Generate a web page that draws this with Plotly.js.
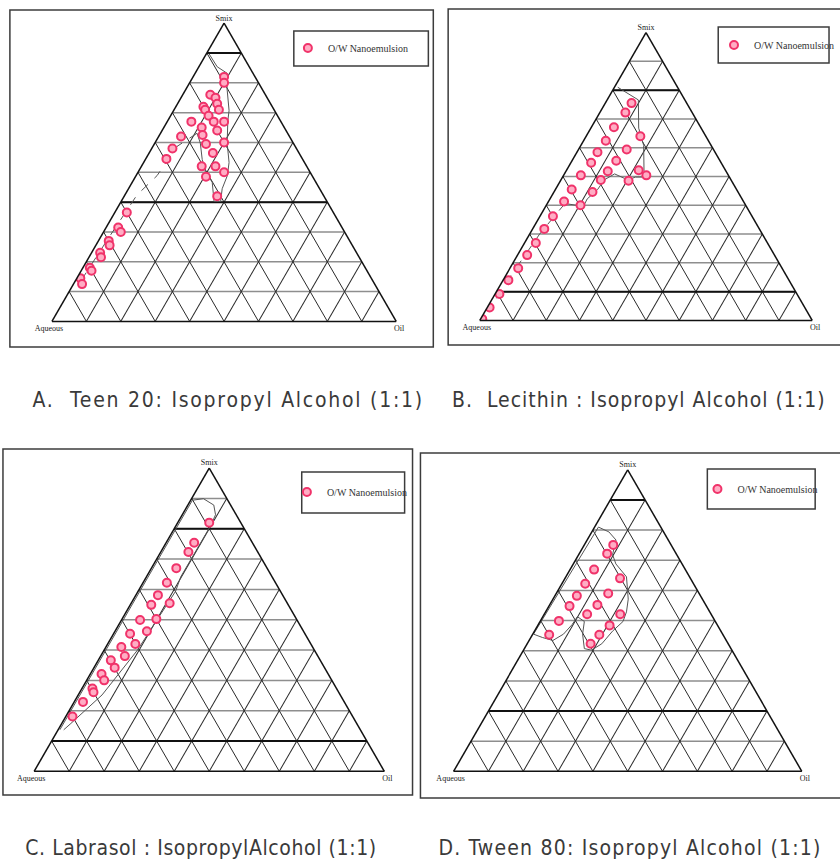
<!DOCTYPE html>
<html>
<head>
<meta charset="utf-8">
<script src="https://cdn.plot.ly/plotly-3.0.1.min.js"></script>
<style>
  body { margin: 0; background: #fff; }
  #chart { width: 840px; height: 865px; }
  /* the printed captions are loosely spaced */
  #chart g.annotation text { letter-spacing: 1.75px; }
  #chart g.annotation[data-index="1"] text { letter-spacing: 1px; }
  #chart g.annotation[data-index="2"] text { letter-spacing: 0.6px; }
  #chart g.annotation[data-index="3"] text { letter-spacing: 1.2px; }
</style>
</head>
<body>
<div id="chart"></div>
<script>
// Pseudo-ternary phase diagrams (Smix / Aqueous / Oil), four Smix systems at 1:1

const W = 840, H = 865;
const seriesName = 'O/W Nanoemulsion';
const captions = [
  'A.&nbsp; Teen 20: Isopropyl Alcohol (1:1)',
  'B.&nbsp; Lecithin : Isopropyl Alcohol (1:1)',
  'C. Labrasol : IsopropylAlcohol (1:1)',
  'D. Tween 80: Isopropyl Alcohol (1:1)'
];

// --- A: Tween 20 : IPA ---
const smixA = [0.82, 0.80, 0.76, 0.75, 0.72, 0.73, 0.71, 0.71, 0.69, 0.67, 0.67, 0.67, 0.65, 0.64, 0.625, 0.62, 0.595, 0.60, 0.58, 0.565, 0.545, 0.52, 0.52, 0.50, 0.485, 0.42,
               0.365, 0.315, 0.30, 0.27, 0.255, 0.23, 0.215, 0.18, 0.17, 0.145, 0.125];
const aqA   = [0.09, 0.10, 0.16, 0.15, 0.20, 0.155, 0.20, 0.16, 0.20, 0.195, 0.165, 0.26, 0.24, 0.20, 0.25, 0.315, 0.255, 0.20, 0.36, 0.25, 0.395, 0.305, 0.265, 0.25, 0.31, 0.31,
               0.60, 0.65, 0.65, 0.70, 0.705, 0.745, 0.75, 0.80, 0.80, 0.845, 0.85];
const oilA  = [0.09, 0.10, 0.08, 0.10, 0.08, 0.115, 0.09, 0.13, 0.11, 0.135, 0.165, 0.07, 0.11, 0.16, 0.125, 0.065, 0.15, 0.20, 0.06, 0.185, 0.06, 0.175, 0.215, 0.25, 0.205, 0.27,
               0.035, 0.035, 0.05, 0.03, 0.04, 0.025, 0.035, 0.02, 0.03, 0.01, 0.025];
const edgeA_smix = [0.898, 0.854, 0.832, 0.783, 0.707, 0.674, 0.598, 0.533, 0.489, 0.445, 0.402, 0.402, 0.467, 0.500, 0.543, 0.598, 0.631];
const edgeA_aq   = [0.095, 0.093, 0.075, 0.100, 0.132, 0.152, 0.192, 0.219, 0.246, 0.283, 0.309, 0.328, 0.301, 0.304, 0.292, 0.270, 0.263];
const edgeA_oil  = [0.007, 0.053, 0.093, 0.117, 0.161, 0.174, 0.210, 0.248, 0.265, 0.272, 0.289, 0.270, 0.232, 0.196, 0.165, 0.132, 0.106];
const dashA_smix = [0.631, 0.587, 0.489, 0.424, 0.271, 0.151, 0.119];
const dashA_aq   = [0.263, 0.343, 0.450, 0.541, 0.705, 0.832, 0.868];
const dashA_oil  = [0.106, 0.070, 0.061, 0.035, 0.024, 0.017, 0.013];
const boldA = [0.9, 0.4];

// --- B: Lecithin : IPA ---
const smixB = [0.755, 0.722, 0.671, 0.640, 0.624, 0.594, 0.584, 0.555, 0.548, 0.518, 0.522, 0.504, 0.485, 0.504, 0.488, 0.455, 0.446, 0.413, 0.400, 0.362, 0.318, 0.269, 0.227, 0.181, 0.140, 0.092, 0.045, 0.005];
const aqB   = [0.166, 0.201, 0.261, 0.197, 0.309, 0.261, 0.354, 0.312, 0.391, 0.356, 0.261, 0.247, 0.310, 0.444, 0.392, 0.496, 0.438, 0.540, 0.497, 0.599, 0.647, 0.697, 0.744, 0.794, 0.844, 0.895, 0.948, 0.990];
const oilB  = [0.079, 0.077, 0.068, 0.163, 0.067, 0.145, 0.062, 0.133, 0.061, 0.126, 0.217, 0.249, 0.205, 0.052, 0.120, 0.049, 0.116, 0.047, 0.103, 0.039, 0.035, 0.034, 0.029, 0.025, 0.016, 0.013, 0.007, 0.005];
const edgeB_smix = [0.810, 0.766, 0.668, 0.608, 0.520, 0.498, 0.498, 0.488, 0.509, 0.488, 0.455, 0.422, 0.389, 0.400, 0.406];
const edgeB_aq   = [0.180, 0.140, 0.188, 0.203, 0.246, 0.242, 0.283, 0.310, 0.340, 0.382, 0.418, 0.466, 0.497, 0.508, 0.541];
const edgeB_oil  = [0.010, 0.094, 0.144, 0.189, 0.234, 0.260, 0.219, 0.202, 0.151, 0.130, 0.127, 0.112, 0.114, 0.092, 0.053];
const dashB_smix = [0.406, 0.300, 0.150, 0.033];
const dashB_aq   = [0.541, 0.670, 0.835, 0.957];
const dashB_oil  = [0.053, 0.030, 0.015, 0.010];
const boldB = [0.8, 0.1];

// --- C: Labrasol : IPA ---
const smixC = [0.820, 0.754, 0.723, 0.670, 0.622, 0.581, 0.554, 0.549, 0.502, 0.499, 0.462, 0.454, 0.420, 0.410, 0.380, 0.366, 0.342, 0.321, 0.300, 0.273, 0.261, 0.229, 0.181];
const aqC   = [0.090, 0.166, 0.198, 0.259, 0.310, 0.356, 0.336, 0.391, 0.400, 0.448, 0.447, 0.499, 0.501, 0.546, 0.551, 0.598, 0.599, 0.647, 0.650, 0.697, 0.700, 0.746, 0.800];
const oilC  = [0.090, 0.080, 0.079, 0.071, 0.068, 0.063, 0.110, 0.060, 0.098, 0.053, 0.091, 0.047, 0.079, 0.044, 0.069, 0.036, 0.059, 0.032, 0.050, 0.030, 0.039, 0.025, 0.019];
const edgeC_smix = [0.137, 0.894, 0.899, 0.878, 0.846, 0.809, 0.641, 0.594, 0.399, 0.252, 0.158, 0.137];
const edgeC_aq   = [0.858, 0.101, 0.067, 0.048, 0.059, 0.092, 0.261, 0.299, 0.506, 0.680, 0.816, 0.847];
const edgeC_oil  = [0.005, 0.005, 0.034, 0.074, 0.095, 0.099, 0.098, 0.107, 0.095, 0.068, 0.026, 0.016];
const boldC = [0.8, 0.1];

// --- D: Tween 80 : IPA ---
const smixD = [0.751, 0.722, 0.669, 0.640, 0.622, 0.590, 0.582, 0.552, 0.548, 0.521, 0.521, 0.499, 0.484, 0.453, 0.453, 0.423];
const aqD   = [0.166, 0.198, 0.262, 0.202, 0.311, 0.261, 0.355, 0.311, 0.393, 0.356, 0.261, 0.448, 0.310, 0.499, 0.355, 0.395];
const oilD  = [0.083, 0.080, 0.069, 0.158, 0.067, 0.149, 0.063, 0.137, 0.059, 0.123, 0.218, 0.053, 0.206, 0.048, 0.192, 0.182];
const edgeD_smix = [0.810, 0.794, 0.767, 0.719, 0.688, 0.645, 0.571, 0.529, 0.497, 0.465, 0.423, 0.402, 0.407, 0.455, 0.497, 0.513, 0.487, 0.455, 0.434, 0.444, 0.455, 0.810];
const edgeD_aq   = [0.179, 0.157, 0.150, 0.184, 0.190, 0.181, 0.213, 0.239, 0.265, 0.311, 0.363, 0.403, 0.421, 0.402, 0.376, 0.388, 0.416, 0.457, 0.498, 0.523, 0.543, 0.179];
const edgeD_oil  = [0.011, 0.049, 0.083, 0.097, 0.122, 0.174, 0.216, 0.232, 0.238, 0.224, 0.214, 0.195, 0.172, 0.143, 0.127, 0.099, 0.097, 0.088, 0.068, 0.033, 0.002, 0.011];
const boldD = [0.9, 0.2];

// ---------------------------------------------------------------

const PINK_FILL = '#ffadc4';
const PINK_EDGE = '#f0336a';

function points(a, b, c, sub, leg) {
  return {
    type: 'scatterternary', mode: 'markers', name: seriesName,
    a: a, b: b, c: c, subplot: sub, legend: leg, showlegend: true,
    marker: { size: 8, color: PINK_FILL, line: { color: PINK_EDGE, width: 2 } },
    hoverinfo: 'skip'
  };
}

function outline(a, b, c, sub, dash) {
  return {
    type: 'scatterternary', mode: 'lines', a: a, b: b, c: c, subplot: sub,
    line: { color: '#555', width: 1, dash: dash || 'solid' },
    showlegend: false, hoverinfo: 'skip'
  };
}

// heavier horizontal grid lines at a few Smix levels
function boldLines(levels, sub) {
  return levels.map(L => ({
    type: 'scatterternary', mode: 'lines', subplot: sub,
    a: [L, L], b: [1 - L, 0], c: [0, 1 - L],
    line: { color: '#111', width: 2 },
    showlegend: false, hoverinfo: 'skip'
  }));
}

function axis(label, gridColor, gridWidth) {
  return {
    title: { text: label, font: { family: 'Liberation Serif, Times New Roman, serif', size: 8, color: '#222' } },
    showticklabels: false, ticks: '', tick0: 0, dtick: 0.1, min: 0,
    showgrid: true, gridcolor: gridColor, gridwidth: gridWidth,
    showline: true, linecolor: '#111', linewidth: 1.5
  };
}

// triangle placed by its base centre (px) and side length
function ternaryAt(cx, baseY, side) {
  const h = side * Math.sqrt(3) / 2;
  return {
    domain: { x: [(cx - side / 2) / W, (cx + side / 2) / W], y: [1 - baseY / H, 1 - (baseY - h) / H] },
    sum: 1, bgcolor: 'rgba(0,0,0,0)',
    aaxis: axis('Smix', '#8e8e8e', 1.5),
    baxis: axis('Aqueous', '#2a2a2a', 1),
    caxis: axis('Oil', '#2a2a2a', 1)
  };
}

function box(x0, y0, x1, y1, w) {
  return { type: 'rect', xref: 'paper', yref: 'paper',
    x0: x0 / W, x1: x1 / W, y0: 1 - y0 / H, y1: 1 - y1 / H,
    line: { color: '#3c3c3c', width: w }, layer: 'below' };
}

function legendAt(x, y) {
  return { x: x / W, y: 1 - y / H, xanchor: 'left', yanchor: 'middle',
    bgcolor: 'rgba(0,0,0,0)', borderwidth: 0,
    font: { family: 'Liberation Serif, Times New Roman, serif', size: 10, color: '#333' } };
}

// centred, because the extra letter spacing grows the text on both sides
function caption(text, cx, y) {
  return { text: text, xref: 'paper', yref: 'paper', x: cx / W, y: 1 - y / H,
    xanchor: 'center', yanchor: 'middle', showarrow: false,
    font: { family: 'DejaVu Sans Condensed, Liberation Sans Narrow, Arial Narrow, sans-serif', size: 21, color: '#3a3a3a' } };
}

const data = [
  ...boldLines(boldA, 'ternary'),
  outline(edgeA_smix, edgeA_aq, edgeA_oil, 'ternary'),
  outline(dashA_smix, dashA_aq, dashA_oil, 'ternary', 'dash'),
  points(smixA, aqA, oilA, 'ternary', 'legend'),

  ...boldLines(boldB, 'ternary2'),
  outline(edgeB_smix, edgeB_aq, edgeB_oil, 'ternary2'),
  outline(dashB_smix, dashB_aq, dashB_oil, 'ternary2', 'dash'),
  points(smixB, aqB, oilB, 'ternary2', 'legend2'),

  ...boldLines(boldC, 'ternary3'),
  outline(edgeC_smix, edgeC_aq, edgeC_oil, 'ternary3'),
  points(smixC, aqC, oilC, 'ternary3', 'legend3'),

  ...boldLines(boldD, 'ternary4'),
  outline(edgeD_smix, edgeD_aq, edgeD_oil, 'ternary4'),
  points(smixD, aqD, oilD, 'ternary4', 'legend4')
];

const layout = {
  width: W, height: H,
  margin: { l: 0, r: 0, t: 0, b: 0 },
  paper_bgcolor: 'white',
  ternary:  ternaryAt(226.5, 323, 348),
  ternary2: ternaryAt(653, 322, 336),
  ternary3: ternaryAt(211.5, 773, 354),
  ternary4: ternaryAt(634.5, 773, 352),
  legend:  legendAt(291, 48),
  legend2: legendAt(722, 45),
  legend3: legendAt(290, 492),
  legend4: legendAt(705, 489),
  shapes: [
    box(10, 10, 438, 347, 1.5),
    box(453, 9, 870, 345, 1.5),
    box(3, 449, 417, 795, 1.5),
    box(425, 453, 870, 798, 1.5),
    box(297, 31, 433, 66, 1.5),
    box(726, 27, 838, 63, 1.5),
    box(305, 472, 409, 513, 1.5),
    box(715, 469, 824, 509, 1.5)
  ],
  annotations: [
    caption(captions[0], 230, 400),
    caption(captions[1], 646, 400),
    caption(captions[2], 203, 848),
    caption(captions[3], 637, 848)
  ]
};

Plotly.newPlot('chart', data, layout, { displayModeBar: false, staticPlot: true });
</script>
</body>
</html>
